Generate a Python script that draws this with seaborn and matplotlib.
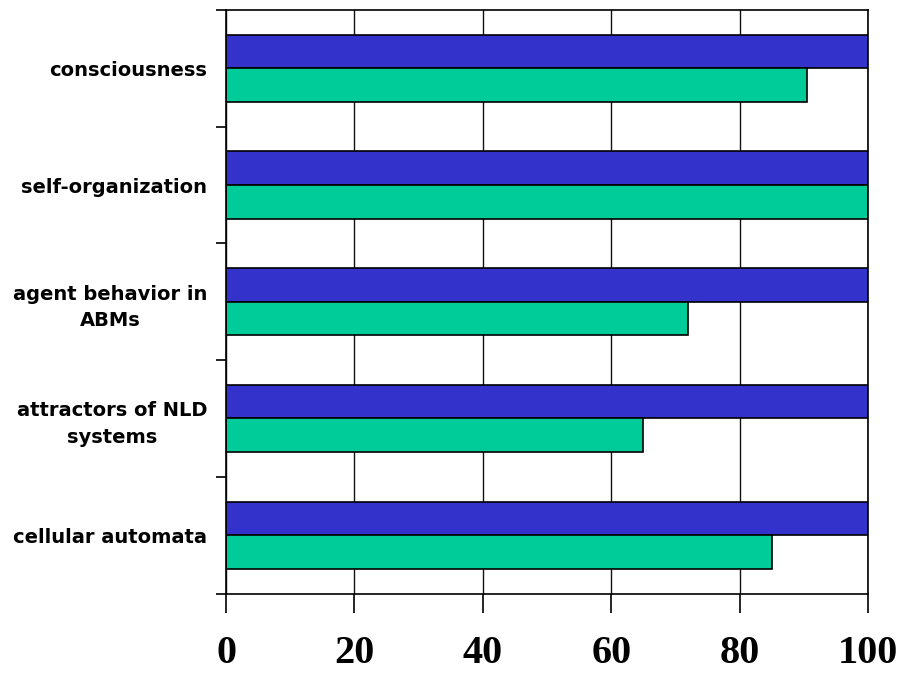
import numpy as np
import pandas as pd
import matplotlib
matplotlib.use("Agg")
import matplotlib.pyplot as plt
from matplotlib.ticker import FixedLocator
import seaborn as sns

# Topics (top to bottom) and the two series of scores
categories = [
    "consciousness",
    "self-organization",
    "agent behavior in\nABMs",
    "attractors of NLD\nsystems",
    "cellular automata",
]
series_names = ["Series 1", "Series 2"]
series1_values = [100, 100, 100, 100, 100]
series2_values = [90.5, 100, 72, 65, 85]
x_ticks = [0, 20, 40, 60, 80, 100]

colors = {"Series 1": "#3333CC", "Series 2": "#00CC99"}

df = pd.DataFrame({
    "topic": categories * 2,
    "series": [series_names[0]] * len(categories) + [series_names[1]] * len(categories),
    "value": series1_values + series2_values,
})

sns.set_style("white")

fig = plt.figure(figsize=(9.02, 6.73), dpi=100)
ax = fig.add_axes([226 / 902, 1 - 593.5 / 673, (868 - 226) / 902, (593.5 - 10) / 673])

sns.barplot(
    data=df, x="value", y="topic", hue="series", order=categories,
    hue_order=series_names, palette=colors, orient="h",
    width=0.575, gap=0, edgecolor="black", linewidth=1.2,
    errorbar=None, legend=False, ax=ax, saturation=1,
)

ax.set_xlim(0, 100)
ax.set_ylim(len(categories) - 0.5, -0.5)
ax.set_xlabel("")
ax.set_ylabel("")

# vertical gridlines behind the bars
ax.set_axisbelow(True)
ax.xaxis.grid(True, color="#111111", linewidth=1.0)
ax.yaxis.grid(False)

for side in ["left", "right", "top", "bottom"]:
    ax.spines[side].set_visible(True)
    ax.spines[side].set_color("black")
    ax.spines[side].set_linewidth(1.2)

# x axis: bold serif numbers, long outward ticks
ax.set_xticks(x_ticks)
ax.set_xticklabels([str(t) for t in x_ticks], fontfamily="Liberation Serif",
                   fontweight="bold", fontsize=29, color="black")
ax.tick_params(axis="x", direction="out", length=14, width=1.2, pad=16,
               bottom=True, colors="black")

# y axis: labels right of a common edge, ticks at category boundaries
ax.set_yticks(range(len(categories)))
ax.set_yticklabels(categories, fontfamily="DejaVu Sans", fontweight="bold",
                   fontsize=14, ha="right", multialignment="center",
                   linespacing=1.5, color="black")
ax.yaxis.set_minor_locator(FixedLocator(np.arange(-0.5, len(categories), 1.0)))
ax.tick_params(axis="y", which="major", length=0, pad=13.5, colors="black")
ax.tick_params(axis="y", which="minor", direction="out", length=7.5, width=1.2,
               left=True, colors="black")

fig.savefig("out.png", dpi=100, facecolor="white")
